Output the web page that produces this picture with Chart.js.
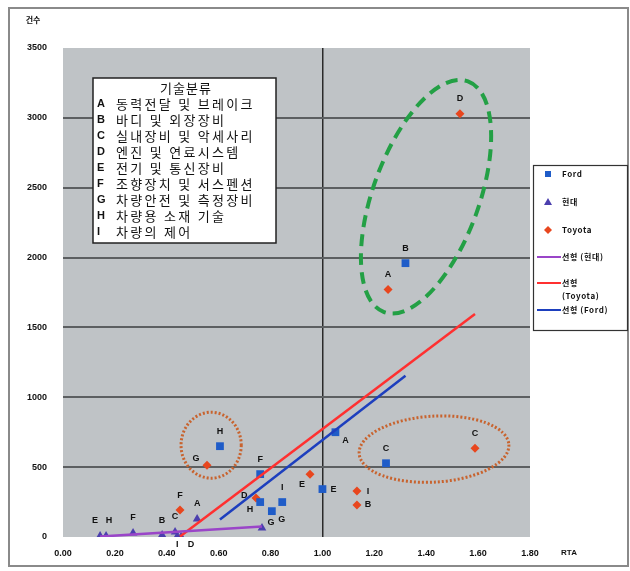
<!DOCTYPE html>
<html><head><meta charset="utf-8">
<script src="https://cdn.jsdelivr.net/npm/chart.js@4"></script>
<style>html,body{margin:0;padding:0;background:#fff}#wrap{position:relative;width:630px;height:571px}</style>
</head><body><div id="wrap"><canvas id="c"></canvas></div>
<script>
// ---- data ----
const yTicks = [0, 500, 1000, 1500, 2000, 2500, 3000, 3500];
const xTicks = [0, 0.2, 0.4, 0.6, 0.8, 1.0, 1.2, 1.4, 1.6, 1.8];
const yAxisUnit = '건수';
const xAxisUnit = 'RTA';

const categoryTitle = '기술분류';
const categoryCodes = ['A', 'B', 'C', 'D', 'E', 'F', 'G', 'H', 'I'];
const categoryNames = ['동력전달 및 브레이크', '바디 및 외장장비', '실내장비 및 악세사리', '엔진 및 연료시스템',
  '전기 및 통신장비', '조향장치 및 서스펜션', '차량안전 및 측정장비', '차량용 소재 기술', '차량의 제어'];

const seriesNames = ['Ford', '현대', 'Toyota'];
const trendNames = ['선형 (현대)', '선형 (Toyota)', '선형 (Ford)'];

const fordLabels = ['A', 'B', 'C', 'D', 'E', 'F', 'G', 'H', 'I'];
const fordX = [1.05, 1.32, 1.245, 0.76, 1.00, 0.76, 0.805, 0.605, 0.845];
const fordY = [750, 1960, 528, 250, 343, 450, 185, 650, 250];

const hyundaiLabels = ['A', 'B', 'C', 'D', 'E', 'F', 'G', 'H', 'I'];
const hyundaiX = [0.517, 0.382, 0.432, 0.455, 0.143, 0.270, 0.767, 0.166, 0.44];
const hyundaiY = [129, 14, 36, 2, 7, 29, 64, 7, 3];

const toyotaLabels = ['A', 'B', 'C', 'D', 'E', 'F', 'G', 'H', 'I'];
const toyotaX = [1.253, 1.133, 1.588, 1.530, 0.952, 0.451, 0.555, 0.744, 1.133];
const toyotaY = [1771, 229, 636, 3029, 450, 193, 514, 279, 329];

// label placement (style only)
const fordLabelPos = ['rightDown', 'above', 'above', 'left', 'right', 'above', 'rightDown', 'above', 'above'];
const hyundaiLabelPos = ['above', 'above', 'above', 'rightDown', 'aboveLeft', 'above', 'rightUp', 'aboveRight', 'below'];
const toyotaLabelPos = ['above', 'right', 'above', 'above', 'leftDown', 'above', 'leftUp', 'belowLeft', 'right'];

// annotation ellipses (data units)
const greenEllipse = { x1: 1.2375, y1: 1610, x2: 1.561, y2: 3261 };
const orangeEllipse = { cx: 1.43, cy: 629, rx: 0.289, ry: 236 };
const orangeCircle = { cx: 0.571, cy: 657, rx: 0.116, ry: 236 };

// ---- helpers ----
const pts = (xs, ys) => xs.map((x, i) => ({ x, y: ys[i] }));
function trend(xs, ys) {
  const n = xs.length;
  const mx = xs.reduce((a, b) => a + b, 0) / n, my = ys.reduce((a, b) => a + b, 0) / n;
  let sxy = 0, sxx = 0;
  for (let i = 0; i < n; i++) { sxy += (xs[i] - mx) * (ys[i] - my); sxx += (xs[i] - mx) ** 2; }
  const b = sxy / sxx, a = my - b * mx;
  const x0 = Math.min(...xs), x1 = Math.max(...xs);
  return [{ x: x0, y: a + b * x0 }, { x: x1, y: a + b * x1 }];
}

const C_FORD = '#1f5cc8', C_HY = '#4b3fae', C_TOY = '#e8461e';
const C_TR_HY = '#9a45c8', C_TR_TOY = '#ff3030', C_TR_FORD = '#1d3fbe';

const offsets = {
  above: [0, -15], below: [0, 8], right: [11, 0], left: [-16, -7], rightDown: [10, 8], rightUp: [9, -6],
  leftDown: [-8, 10], leftUp: [-11, -7], belowLeft: [-6, 11], aboveLeft: [-5, -16], aboveRight: [3, -16]
};

const pointLabelPlugin = {
  id: 'pointLabels',
  afterDatasetsDraw(chart) {
    const { ctx } = chart;
    const sets = [[0, fordLabels, fordLabelPos], [1, hyundaiLabels, hyundaiLabelPos], [2, toyotaLabels, toyotaLabelPos]];
    ctx.save();
    ctx.font = 'bold 9px "Liberation Sans", Arial, sans-serif';
    ctx.fillStyle = '#111';
    ctx.textAlign = 'center';
    ctx.textBaseline = 'middle';
    sets.forEach(([di, labels, pos]) => {
      const meta = chart.getDatasetMeta(di);
      meta.data.forEach((el, i) => {
        const o = offsets[pos[i]];
        ctx.fillText(labels[i], el.x + o[0], el.y + o[1]);
      });
    });
    ctx.restore();
  }
};

const ellipsePlugin = {
  id: 'ellipses',
  afterDatasetsDraw(chart) {
    const { ctx, scales: { x, y } } = chart;
    ctx.save();
    const p1 = [x.getPixelForValue(greenEllipse.x1), y.getPixelForValue(greenEllipse.y1)];
    const p2 = [x.getPixelForValue(greenEllipse.x2), y.getPixelForValue(greenEllipse.y2)];
    const cx = (p1[0] + p2[0]) / 2, cy = (p1[1] + p2[1]) / 2;
    const a = Math.hypot(p2[0] - p1[0], p2[1] - p1[1]) / 2;
    const ang = Math.atan2(p2[1] - p1[1], p2[0] - p1[0]);
    ctx.beginPath();
    ctx.ellipse(cx, cy, a, 53, ang, 0, Math.PI * 2);
    ctx.setLineDash([12, 7]);
    ctx.lineWidth = 4;
    ctx.strokeStyle = '#23a045';
    ctx.stroke();
    ctx.setLineDash([2, 2]);
    ctx.lineWidth = 3;
    ctx.strokeStyle = '#c8632e';
    [[orangeEllipse, -0.06], [orangeCircle, 0]].forEach(([e, rot]) => {
      const ex = x.getPixelForValue(e.cx), ey = y.getPixelForValue(e.cy);
      const rx = Math.abs(x.getPixelForValue(e.cx + e.rx) - ex);
      const ry = Math.abs(y.getPixelForValue(e.cy + e.ry) - ey);
      ctx.beginPath();
      ctx.ellipse(ex, ey, rx, ry, rot, 0, Math.PI * 2);
      ctx.stroke();
    });
    ctx.restore();
  }
};

const framePlugin = {
  id: 'frame',
  beforeDraw(chart) {
    const { ctx, chartArea: a } = chart;
    ctx.save();
    ctx.fillStyle = '#fff';
    ctx.fillRect(0, 0, chart.width, chart.height);
    ctx.fillStyle = '#bfc3c6';
    ctx.fillRect(a.left, a.top, a.right - a.left, a.bottom - a.top);
    ctx.restore();
  },
  afterDraw(chart) {
    const { ctx } = chart;
    ctx.save();
    ctx.strokeStyle = '#8a8a8a';
    ctx.lineWidth = 2;
    ctx.strokeRect(9, 8, 619, 558);
    ctx.fillStyle = '#111';
    ctx.font = 'bold 8px "Noto Sans CJK KR", sans-serif';
    ctx.textAlign = 'center';
    ctx.textBaseline = 'middle';
    ctx.fillText(yAxisUnit, 33, 20);
    ctx.font = 'bold 8px "Liberation Sans", Arial, sans-serif';
    ctx.fillText(xAxisUnit, 569, 553);

    // category box
    ctx.fillStyle = '#fff';
    ctx.fillRect(93, 78, 183, 165);
    ctx.strokeStyle = '#222';
    ctx.lineWidth = 1.5;
    ctx.strokeRect(93, 78, 183, 165);
    ctx.fillStyle = '#111';
    ctx.font = '13px "Noto Sans CJK KR", sans-serif';
    ctx.textBaseline = 'middle';
    ctx.textAlign = 'center';
    ctx.letterSpacing = '1px';
    ctx.fillText(categoryTitle, 186, 88);
    ctx.textAlign = 'left';
    categoryCodes.forEach((c, i) => {
      const yy = 104 + i * 16;
      ctx.letterSpacing = '0px';
      ctx.font = 'bold 11px "Liberation Sans", Arial, sans-serif';
      ctx.fillText(c, 97, yy);
      ctx.font = '13px "Noto Sans CJK KR", sans-serif';
      ctx.letterSpacing = '2.3px';
      ctx.fillText(categoryNames[i], 116, yy);
    });
    ctx.letterSpacing = '0px';

    // series legend
    ctx.fillStyle = '#fff';
    ctx.fillRect(533, 165, 95, 165);
    ctx.strokeStyle = '#333';
    ctx.lineWidth = 1.2;
    ctx.strokeRect(533.5, 165.5, 94, 165);
    ctx.fillStyle = C_FORD;
    ctx.fillRect(545, 171, 6, 6);
    ctx.fillStyle = C_HY;
    ctx.beginPath(); ctx.moveTo(548, 198); ctx.lineTo(552, 205); ctx.lineTo(544, 205); ctx.closePath(); ctx.fill();
    ctx.fillStyle = C_TOY;
    ctx.beginPath(); ctx.moveTo(548, 226); ctx.lineTo(552, 230); ctx.lineTo(548, 234); ctx.lineTo(544, 230); ctx.closePath(); ctx.fill();
    ctx.lineWidth = 2;
    [[C_TR_HY, 257], [C_TR_TOY, 283], [C_TR_FORD, 310]].forEach(([col, yy]) => {
      ctx.strokeStyle = col;
      ctx.beginPath(); ctx.moveTo(537, yy); ctx.lineTo(561, yy); ctx.stroke();
    });
    ctx.fillStyle = '#111';
    ctx.font = 'bold 8px "Noto Sans CJK KR", "Liberation Sans", sans-serif';
    ctx.textAlign = 'left';
    ctx.letterSpacing = '0.6px';
    ctx.fillText(seriesNames[0], 562, 174);
    ctx.fillText(seriesNames[1], 562, 202);
    ctx.fillText(seriesNames[2], 562, 230);
    ctx.fillText(trendNames[0], 562, 257);
    const tp = trendNames[1].split(' ');
    ctx.fillText(tp[0], 562, 283);
    ctx.fillText(tp[1], 562, 296);
    ctx.fillText(trendNames[2], 562, 310);
    ctx.restore();
  }
};

new Chart(document.getElementById('c'), {
  type: 'scatter',
  data: {
    datasets: [
      { label: seriesNames[0], data: pts(fordX, fordY), pointStyle: 'rect', pointRadius: 5.5, backgroundColor: C_FORD, borderColor: C_FORD, borderWidth: 0, order: 1 },
      { label: seriesNames[1], data: pts(hyundaiX, hyundaiY), pointStyle: 'triangle', pointRadius: 5, backgroundColor: C_HY, borderColor: C_HY, borderWidth: 0, order: 1 },
      { label: seriesNames[2], data: pts(toyotaX, toyotaY), pointStyle: 'rectRot', pointRadius: 4.5, backgroundColor: C_TOY, borderColor: C_TOY, borderWidth: 0, order: 1 },
      { label: trendNames[0], data: trend(hyundaiX, hyundaiY), showLine: true, pointRadius: 0, borderColor: C_TR_HY, borderWidth: 2.5, order: 0 },
      { label: trendNames[1], data: trend(toyotaX, toyotaY), showLine: true, pointRadius: 0, borderColor: C_TR_TOY, borderWidth: 2.5, order: 0 },
      { label: trendNames[2], data: trend(fordX, fordY), showLine: true, pointRadius: 0, borderColor: C_TR_FORD, borderWidth: 2.5, order: 0 }
    ]
  },
  options: {
    responsive: true,
    maintainAspectRatio: false,
    animation: false,
    layout: { padding: { top: 48, right: 100, bottom: 0, left: 0 } },
    plugins: { legend: { display: false }, tooltip: { enabled: false } },
    scales: {
      x: {
        type: 'linear', min: xTicks[0], max: xTicks[xTicks.length - 1],
        afterBuildTicks: s => { s.ticks = xTicks.map(v => ({ value: v })); },
        afterFit: s => { s.height = 34; },
        border: { display: false },
        grid: {
          drawTicks: false, lineWidth: 1.5,
          color: c => (c.tick && Math.abs(c.tick.value - 1) < 1e-6) ? '#2a2a2a' : 'rgba(0,0,0,0)'
        },
        ticks: {
          padding: 11, color: '#111', font: { family: '"Liberation Sans", Arial, sans-serif', size: 9, weight: 'bold' },
          callback: v => Number(v).toFixed(2)
        }
      },
      y: {
        type: 'linear', min: yTicks[0], max: yTicks[yTicks.length - 1],
        afterBuildTicks: s => { s.ticks = yTicks.map(v => ({ value: v })); },
        afterFit: s => { s.width = 63; },
        border: { display: false },
        grid: {
          drawTicks: false, lineWidth: 2,
          color: c => (c.tick && c.tick.value > 0 && c.tick.value < 3500) ? '#5c5f61' : 'rgba(0,0,0,0)'
        },
        ticks: {
          padding: 16, color: '#111', font: { family: '"Liberation Sans", Arial, sans-serif', size: 9, weight: 'bold' },
          callback: v => String(v)
        }
      }
    }
  },
  plugins: [framePlugin, ellipsePlugin, pointLabelPlugin]
});
</script>
</body></html>
